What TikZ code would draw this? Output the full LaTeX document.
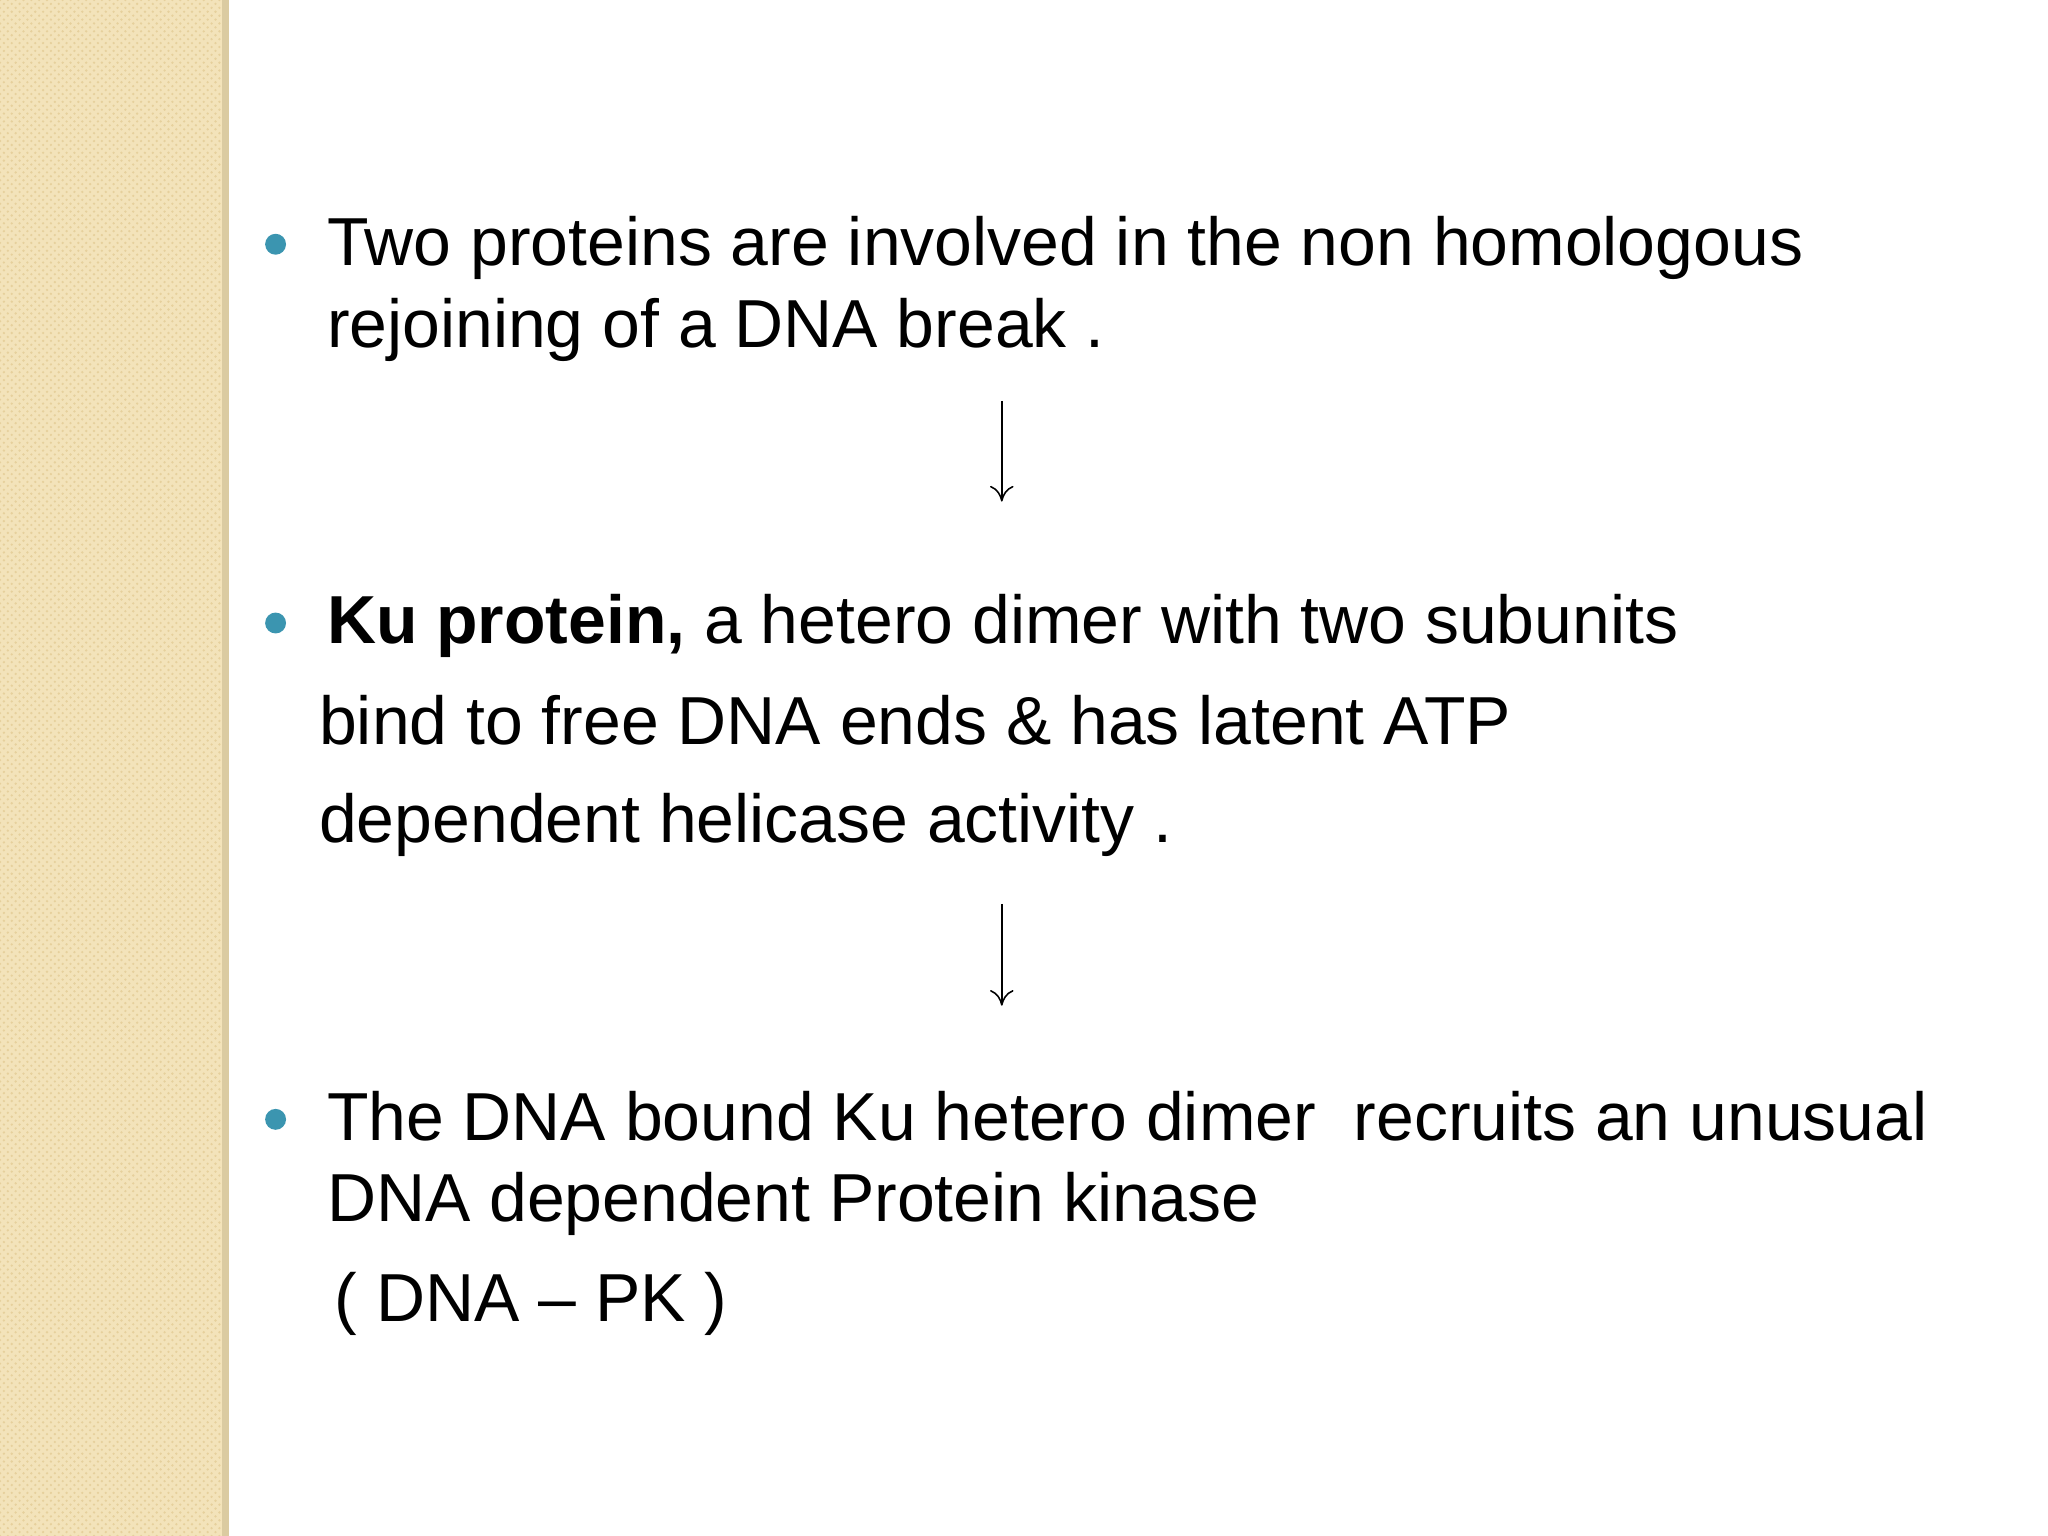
\documentclass[tikz,border=0pt]{standalone}
\usepackage{fontspec}
\setmainfont{Liberation Sans}
\usetikzlibrary{arrows.meta,patterns}
\definecolor{strip}{HTML}{F3E3BA}
\definecolor{stripdot}{HTML}{E6D09C}
\definecolor{bul}{HTML}{3B95B0}
\tikzset{txt/.style={anchor=base west,inner sep=0pt,font=\fontsize{26}{30}\selectfont},
 bullet/.style={circle,fill=bul,inner sep=0pt,minimum size=8pt},
 flow/.style={-{To[length=6pt,width=9pt]},line width=0.6pt}}
\begin{document}
\begin{tikzpicture}[x=0.5pt,y=-0.5pt]
\useasboundingbox (0,0) rectangle (1568,1176);
\fill[white] (0,0) rectangle (1568,1176);
\fill[strip] (0,0) rectangle (172,1176);
\fill[pattern=crosshatch dots,pattern color=stripdot] (0,0) rectangle (172,1176);
\fill[stripdot!80!black!40!strip] (170,0) rectangle (175,1176);
\node[bullet] (b1) at (211,187) {};
\node[txt] (t1) at (250,203) {Two proteins are involved in the non homologous};
\node[txt] (t2) at (250,266) {rejoining of a DNA break .};
\node[bullet] (b2) at (211,477) {};
\node[txt] (k1) at (250,493) {\textbf{Ku protein,} a hetero dimer with two subunits};
\node[txt] (k2) at (244,570) {bind to free DNA ends \& has latent ATP};
\node[txt] (k3) at (244,645) {dependent helicase activity .};
\node[bullet] (b3) at (211,857) {};
\node[txt] (d1) at (250,873) {The DNA bound Ku hetero dimer\ \ recruits an unusual};
\node[txt] (d2) at (250,935) {DNA dependent Protein kinase};
\node[txt] (d3) at (256,1012) {( DNA – PK )};
\coordinate (a1s) at (767,307); \coordinate (a1e) at (767,384);
\coordinate (a2s) at (767,692); \coordinate (a2e) at (767,770);
\draw[flow] (a1s) -- (a1e);
\draw[flow] (a2s) -- (a2e);
\end{tikzpicture}
\end{document}
